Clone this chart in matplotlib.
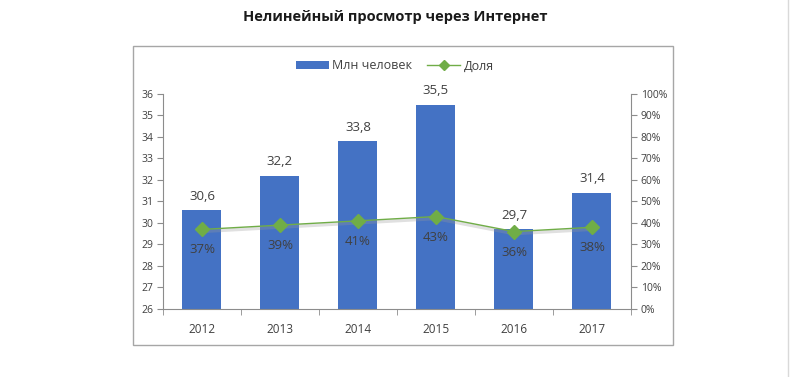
import numpy as np
import matplotlib
matplotlib.use("Agg")
import matplotlib.pyplot as plt
import matplotlib.patheffects as pe
from matplotlib.patches import Rectangle

years = ["2012", "2013", "2014", "2015", "2016", "2017"]
people_mln = [30.6, 32.2, 33.8, 35.5, 29.7, 31.4]
share = [0.37, 0.39, 0.41, 0.43, 0.36, 0.38]
left_ticks = list(range(26, 37))
right_ticks = [i / 10 for i in range(11)]

plt.rcParams["font.family"] = ["Open Sans", "DejaVu Sans"]
BLUE = "#4472C4"
GREEN = "#70AD47"
AXIS = "#8c8c8c"
TXT = "#404040"

fig = plt.figure(figsize=(7.9, 3.77), dpi=100)

# chart frame
fig.patches.append(Rectangle((0.1684, 0.0849), 0.6835, 0.7931, transform=fig.transFigure,
                             fill=False, edgecolor="#a6a6a6", linewidth=1.0))
fig.lines.append(plt.Line2D([0.997, 0.997], [0, 1], transform=fig.transFigure,
                            color="#d9d9d9", linewidth=1.0))

fig.text(0.5, 0.955, "Нелинейный просмотр через Интернет", ha="center", va="center",
         fontsize=10.5, fontweight="bold", color="#1a1a1a")

ax = fig.add_axes([0.2063, 0.1804, 0.5924, 0.5703])
x = np.arange(len(years))
bars = ax.bar(x, [v - 26 for v in people_mln], bottom=26, width=0.5, color=BLUE,
              label="Млн человек", zorder=2)
ax.set_xlim(-0.5, len(years) - 0.5)
ax.set_ylim(26, 36)
ax.set_yticks(left_ticks)
ax.set_xticks(x)
ax.set_xticklabels(years)
ax.set_xticks(np.arange(-0.5, len(years)), minor=True)
ax.tick_params(axis="x", which="major", length=0, pad=10, labelsize=8.5, colors=TXT)
ax.tick_params(axis="x", which="minor", length=4, color=AXIS)
ax.tick_params(axis="y", length=4, color=AXIS, labelsize=7.5, labelcolor=TXT, pad=3)
for s in ["top", "right"]:
    ax.spines[s].set_visible(False)
for s in ["left", "bottom"]:
    ax.spines[s].set_color(AXIS)

for xi, v in zip(x, people_mln):
    ax.text(xi, v + 0.35, f"{v:.1f}".replace(".", ","), ha="center", va="bottom",
            fontsize=9.5, color=TXT)

ax2 = ax.twinx()
ax2.plot(x, share, color="#999999", alpha=0.3, linewidth=2.5,
         path_effects=[pe.Normal()], transform=ax2.transData + 
         matplotlib.transforms.ScaledTranslation(0, -2 / 100, fig.dpi_scale_trans), zorder=2)
line, = ax2.plot(x, share, color=GREEN, linewidth=1.0, marker="D", markersize=7,
                 label="Доля", zorder=3)
ax2.set_ylim(0, 1)
ax2.set_yticks(right_ticks)
ax2.set_yticklabels([f"{int(round(t * 100))}%" for t in right_ticks])
ax2.tick_params(axis="y", length=4, color=AXIS, labelsize=7.5, labelcolor=TXT, pad=3)
for s in ["top", "left", "bottom"]:
    ax2.spines[s].set_visible(False)
ax2.spines["right"].set_color(AXIS)

for xi, v in zip(x, share):
    ax2.text(xi, v - 0.065, f"{int(round(v * 100))}%", ha="center", va="top",
             fontsize=9.5, color=TXT, zorder=4)

fig.legend(handles=[bars, line], loc="center", bbox_to_anchor=(0.5, 0.825), ncol=2,
           frameon=False, fontsize=9, handlelength=2.6, handleheight=0.7,
           columnspacing=1.2, handletextpad=0.3, labelcolor=TXT, markerscale=0.75)

fig.savefig("out.png", dpi=100)
